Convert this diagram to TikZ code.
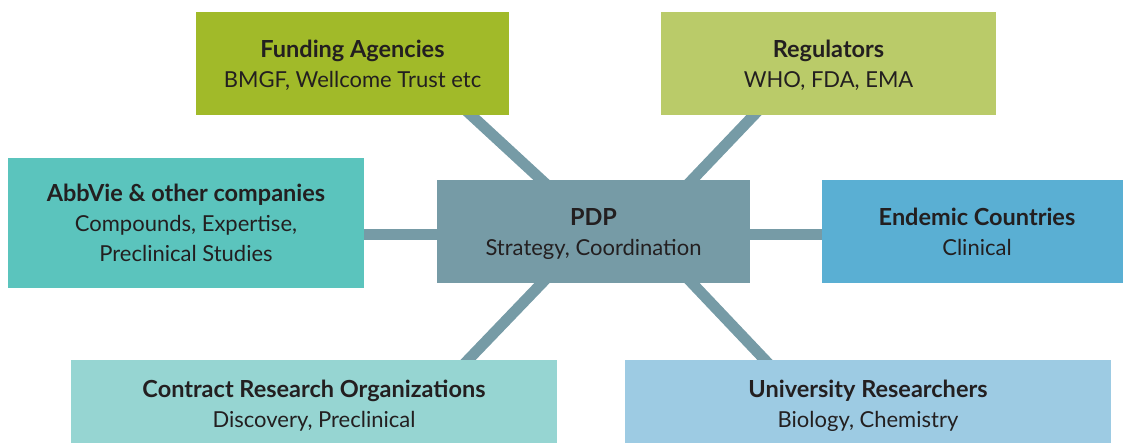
\documentclass[tikz,border=0pt]{standalone}
\usepackage{fontspec}
\setmainfont{Lato}
\usetikzlibrary{calc,backgrounds}
\definecolor{txt}{HTML}{231F20}
\definecolor{cfund}{HTML}{A1BA29}
\definecolor{creg}{HTML}{BACB69}
\definecolor{cabb}{HTML}{5BC4BD}
\definecolor{cpdp}{HTML}{769BA6}
\definecolor{cend}{HTML}{5AAFD3}
\definecolor{ccro}{HTML}{96D5D2}
\definecolor{cuni}{HTML}{9DCBE3}
\newcommand{\boxtext}[2]{\rule{0pt}{25pt}{\bfseries\fontsize{23.5}{30}\selectfont #1}\\#2\rule[-8pt]{0pt}{8pt}}
\tikzset{
  box/.style={rectangle, inner sep=0pt, outer sep=0pt, align=center, text=txt,
    font=\fontsize{22}{30}\selectfont},
  conn/.style={draw=cpdp, line width=11pt, line cap=butt},
}
\begin{document}
\begin{tikzpicture}[x=1pt,y=-1pt]
\useasboundingbox (0,0) rectangle (1123,442);
\node[box, fill=cfund, minimum width=313pt, minimum height=103pt] (fund) at (352.5,63.5)
  {\boxtext{Funding Agencies}{BMGF, Wellcome Trust etc}};
\node[box, fill=creg, minimum width=335pt, minimum height=103pt] (reg) at (828.5,63.5)
  {\boxtext{Regulators}{WHO, FDA, EMA}};
\node[box, fill=cabb, minimum width=356pt, minimum height=130pt] (abb) at (186,223)
  {\boxtext{AbbVie \& other companies}{Compounds, Expertise,\\Preclinical Studies}};
\node[box, fill=cpdp, minimum width=313pt, minimum height=103pt] (pdp) at (593.5,231.5)
  {\boxtext{PDP}{Strategy, Coordination}};
\node[box, fill=cend, minimum width=310pt, minimum height=103pt] (end) at (977,231.5)
  {\boxtext{Endemic Countries}{Clinical}};
\node[box, fill=ccro, minimum width=486pt, minimum height=88pt] (cro) at (314,404)
  {\boxtext{Contract Research Organizations}{Discovery, Preclinical}};
\node[box, fill=cuni, minimum width=486pt, minimum height=88pt] (uni) at (868,404)
  {\boxtext{University Researchers}{Biology, Chemistry}};
\coordinate (f1) at ([xshift=118.5]fund.south);
\coordinate (f2) at ([xshift=-52]pdp.north);
\coordinate (r1) at ([xshift=-74.5]reg.south);
\coordinate (r2) at ([xshift=98.5]pdp.north);
\coordinate (c1) at ([xshift=-51.5]pdp.south);
\coordinate (c2) at ([xshift=154]cro.north);
\coordinate (u1) at ([xshift=98.5]pdp.south);
\coordinate (u2) at ([xshift=-103]uni.north);
\coordinate (a1) at ([yshift=-3]pdp.west);
\coordinate (a2) at (a1 -| abb.east);
\coordinate (e1) at ([yshift=-3]pdp.east);
\coordinate (e2) at (e1 -| end.west);
\begin{scope}[on background layer]
\draw[conn] ($(f1)!-10pt!(f2)$) -- ($(f2)!-10pt!(f1)$);
\draw[conn] ($(r1)!-10pt!(r2)$) -- ($(r2)!-10pt!(r1)$);
\draw[conn] ($(c1)!-10pt!(c2)$) -- ($(c2)!-10pt!(c1)$);
\draw[conn] ($(u1)!-10pt!(u2)$) -- ($(u2)!-10pt!(u1)$);
\draw[conn] ($(a1)!-10pt!(a2)$) -- ($(a2)!-10pt!(a1)$);
\draw[conn] ($(e1)!-10pt!(e2)$) -- ($(e2)!-10pt!(e1)$);
\end{scope}
\end{tikzpicture}
\end{document}
